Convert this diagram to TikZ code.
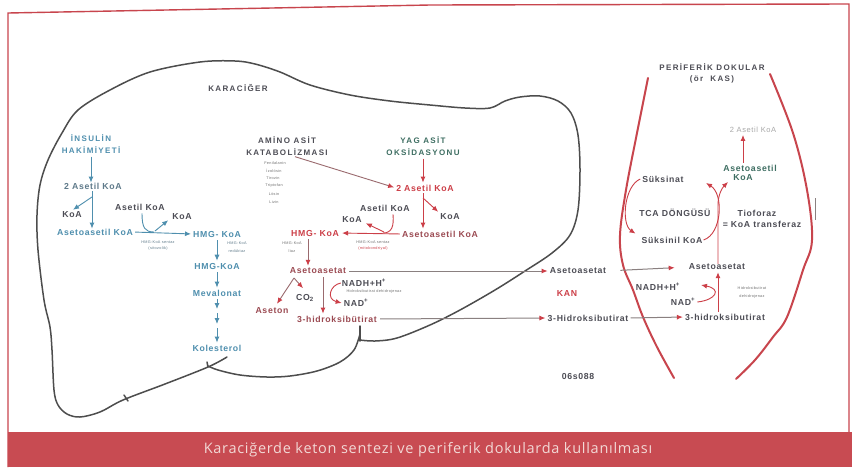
\documentclass[tikz,border=0pt]{standalone}
\usepackage{fontspec}
\setmainfont{Liberation Sans}
\newfontfamily\lab[LetterSpace=8]{Liberation Sans}
\newfontfamily\capf[LetterSpace=17]{Liberation Sans}
\newfontfamily\captf[LetterSpace=5]{Open Sans}
\usetikzlibrary{arrows.meta}
\definecolor{dgray}{HTML}{4D4D55}
\definecolor{bgray}{HTML}{5F7A8A}
\definecolor{bluec}{HTML}{4F8FAE}
\definecolor{redc}{HTML}{CC3F48}
\definecolor{rbrown}{HTML}{9B4A52}
\definecolor{tealc}{HTML}{3E6E62}
\definecolor{liverc}{HTML}{4D4D4D}
\definecolor{bordc}{HTML}{C8454D}
\definecolor{bandc}{HTML}{C84B52}
\definecolor{captc}{HTML}{F2D9D6}
\definecolor{glc}{HTML}{8A8080}
\definecolor{rgl}{HTML}{9A6A6E}
\definecolor{lgray}{HTML}{A8A8A8}
\definecolor{tgray}{HTML}{707070}
\tikzset{
  txt/.style={font=\lab\bfseries\fontsize{8.7}{9.5}\selectfont, inner sep=0pt, text=dgray},
  capl/.style={font=\capf\bfseries\fontsize{8}{9}\selectfont, inner sep=0pt, text=dgray},
  tiny/.style={font=\lab\fontsize{3.8}{4.2}\selectfont, inner sep=0pt, text=tgray},
  ltxt/.style={font=\lab\fontsize{7.5}{8}\selectfont, inner sep=0pt, text=lgray},
  bl/.style={text=bluec}, rd/.style={text=redc}, rb/.style={text=rbrown}, tl/.style={text=tealc},
  tip/.style={-{Latex[length=6pt,width=5pt,color=#1]}},
  barrow/.style={draw=bluec, line width=0.9pt, tip=bluec},
  bline/.style={draw=bluec, line width=0.9pt},
  rarrow/.style={draw=redc, line width=0.9pt, tip=redc},
  rline/.style={draw=redc, line width=0.9pt},
  rgarrow/.style={draw=rgl, line width=0.9pt, tip=redc},
  glong/.style={draw=glc, line width=1pt, tip=redc, shorten <=3pt, shorten >=2pt},
  liver/.style={draw=liverc, line width=1.5pt, line join=round, line cap=round},
  muscle/.style={draw=bordc, line width=2pt, line cap=round},
}
\begin{document}
\begin{tikzpicture}[x=1pt,y=-1pt]
\useasboundingbox (0,0) rectangle (858,472);
\fill[white] (0,0) rectangle (858,472);
% frame and band
\draw[bordc, line width=1.4pt] (8,467) -- (8,13) -- (430,5) -- (849,4) -- (849,432);
\fill[bandc] (8,432) rectangle (852,467);
\node[font=\captf\fontsize{14.5}{15}\selectfont, text=captc, inner sep=0pt] (capt) at (428,450) {Karaciğerde keton sentezi ve periferik dokularda kullanılması};

% liver outline
\draw[liver] plot[smooth, tension=0.55] coordinates {
 (227,357) (208,367) (165,384) (123,400) (100,412) (80,417) (67,414) (58,405) (54,390) (52,350) (50,327)
 (44,300) (38,250) (37,215) (40,185) (48,160) (62,133) (78,110) (110,90) (150,72) (200,62) (235,61)
 (255,64) (280,72) (310,85) (350,95) (390,101) (430,105) (465,108) (490,108) (505,101) (520,97)
 (540,96) (558,101) (571,113) (578,135) (580,170) (578,210) (570,235) (552,253) (525,271) (495,290)
 (460,310) (430,325) (397,338) (375,341) (360,340)};
\draw[liver] (360,326) -- (360,341);
\draw[liver] plot[smooth, tension=0.55] coordinates {
 (360,334) (354,350) (340,362) (317,371) (290,376) (267,377) (240,375) (218,370) (208,366)};
\draw[liver] (124,395) -- (128,401);
\draw[liver] (207,362) -- (208,367);
\node[capl] (liv) at (238,88) {KARACİĞER};

% peripheral tissue outline
\draw[muscle] plot[smooth, tension=0.6] coordinates {
 (648,78) (637,133) (626,190) (620,235) (623,265) (633,290) (643,317) (657,347) (674,378)};
\draw[muscle] plot[smooth, tension=0.6] coordinates {
 (770,74) (793,133) (807,190) (812,240) (803,270) (787,317) (773,337) (755,360) (736,379)};
\draw[glc, line width=0.7pt] (815,198) -- (815,220);

% ---------- left column (insulin) ----------
\node[capl,bl] (ins1) at (91,138) {İNSULİN};
\node[capl,bl] (ins2) at (91,150) {HAKİMİYETİ};
\node[txt,text=bgray] (n2aL) at (93,186) {2 Asetil KoA};
\coordinate (brL) at (92,197);
\node[txt] (koaL) at (72,215) {KoA};
\node[txt,bl] (aaL) at (95,232) {Asetoasetil KoA};
\node[txt] (asL) at (140,207) {Asetil KoA};
\node[txt] (koaL2) at (182,217) {KoA};
\node[txt,bl] (hmgL) at (217,234) {HMG- KoA};
\node[tiny,text=bgray] (snL1) at (158,242) {HMG-KoA sentaz};
\node[tiny,text=bgray] (snL2) at (158,249) {(sitozolik)};
\node[tiny,text=bgray] (rdL1) at (237,243) {HMG-KoA};
\node[tiny,text=bgray] (rdL2) at (237,251) {redüktaz};
\node[txt,bl] (hmgL2) at (217,266) {HMG-KoA};
\node[txt,bl] (mev) at (217,293) {Mevalonat};
\node[txt,bl] (kol) at (217,348) {Kolesterol};
\coordinate (k1) at (217,313);
\coordinate (k2) at (217,324);
\coordinate (k3) at (217,328);

\draw[barrow, shorten <=3pt] (ins2.south) -- (n2aL.north -| ins2.south);
\draw[barrow, shorten <=2pt] (n2aL.south -| brL) -- (aaL.north -| brL);
\draw[barrow] (brL) -- ([xshift=1pt,yshift=2pt]koaL.north);
\draw[barrow, shorten <=2pt, shorten >=2pt] (aaL.east) -- (hmgL.west);
\draw[bline] ([xshift=2pt,yshift=-3pt]asL.south) .. controls (142,228) and (145,232) .. (154,232);
\draw[barrow] (155,231) -- ([xshift=-4pt]koaL2.south west);
\draw[barrow, shorten <=3pt, shorten >=2pt] (hmgL.south) -- (hmgL2.north);
\draw[barrow, shorten <=3pt, shorten >=2pt] (hmgL2.south) -- (mev.north);
\draw[barrow, shorten <=3pt] (mev.south) -- ([yshift=4pt]k1);
\draw[barrow] (k1) -- (k2);
\draw[barrow, shorten >=2pt] (k3) -- (kol.north);

% ---------- middle column ----------
\node[capl] (am1) at (287,140) {AMİNO ASİT};
\node[capl] (am2) at (287,152) {KATABOLİZMASI};
\node[tiny] (al1) at (275,163) {Fenilalanin};
\node[tiny] (al2) at (274,171) {İzolösin};
\node[tiny] (al3) at (273,178) {Tirozin};
\node[tiny] (al4) at (274,186) {Triptofan};
\node[tiny] (al5) at (274,194) {Lösin};
\node[tiny] (al6) at (274,202) {Lizin};
\node[capl,tl] (yg1) at (423,140) {YAG ASİT};
\node[capl,tl] (yg2) at (423,152) {OKSİDASYONU};
\node[txt,rd] (n2aM) at (425,188) {2 Asetil KoA};
\coordinate (brM) at (423,198);
\node[txt] (koaM1) at (450,217) {KoA};
\node[txt,rb] (aaM) at (440,234) {Asetoasetil KoA};
\node[txt] (asM) at (385,208) {Asetil KoA};
\node[txt] (koaM2) at (352,220) {KoA};
\node[txt,rd] (hmgM) at (315,233) {HMG- KoA};
\node[tiny] (snM1) at (373,242) {HMG-KoA sentaz};
\node[tiny,text=redc] (snM2) at (373,249) {(mitokondriyal)};
\node[tiny] (lyM1) at (292,243) {HMG-KoA};
\node[tiny] (lyM2) at (292,251) {liaz};
\node[txt,rb] (asetM) at (318,271) {Asetoasetat};
\node[txt,rb] (aseton) at (272,311) {Aseton};
\node[txt] (co2) at (305,298) {CO\textsubscript{2}};
\node[txt] (nadh) at (364,283) {NADH+H\textsuperscript{+}};
\node[tiny] (hbdM) at (374,292) {Hidroksibutirat dehidrojenaz};
\node[txt] (nadM) at (356,303) {NAD\textsuperscript{+}};
\node[txt,rb] (hbM) at (337,319) {3-hidroksibütirat};
\coordinate (bA) at (294,278);
\coordinate (x308) at (308,0);
\coordinate (x323) at (323,0);

\draw[rgarrow, shorten >=2pt] ([xshift=8pt,yshift=-1pt]am2.south) -- (n2aM.west);
\draw[rarrow, shorten <=3pt, shorten >=2pt] (yg2.south) -- (n2aM.north -| yg2.south);
\draw[rarrow, shorten <=2pt, shorten >=2pt] (n2aM.south -| brM) -- (aaM.north -| brM);
\draw[rarrow] (brM) -- ([xshift=-2pt,yshift=2pt]koaM1.north west);
\draw[rarrow, shorten <=2pt, shorten >=3pt] (aaM.west) -- (hmgM.east);
\draw[rline] ([xshift=8pt,yshift=-3pt]asM.south) .. controls (394,226) and (392,233) .. (383,233);
\draw[rarrow] (384,232) -- ([xshift=4pt]koaM2.south east);
\draw[rgarrow, shorten <=3pt, shorten >=2pt] (hmgM.south -| x308) -- (asetM.north -| x308);
\draw[rgarrow] (bA) -- ([xshift=5pt,yshift=4pt]aseton.north);
\draw[rgarrow] (bA) -- ([xshift=-2pt,yshift=6pt]co2.north);
\draw[rgarrow, shorten <=3pt, shorten >=2pt] (asetM.south -| x323) -- (hbM.north -| x323);
\draw[rarrow] ([xshift=-1pt]nadh.west) .. controls (330,285) and (326,299) .. ([xshift=-2pt]nadM.west);

% ---------- blood ----------
\node[txt] (asetK) at (578,271) {Asetoasetat};
\node[txt,rd] (kan) at (567,293) {KAN};
\node[txt] (hbK) at (588,318) {3-Hidroksibutirat};
\draw[glong] (asetM.east) -- (asetK.west);
\draw[glong] (hbM.east) -- (hbK.west);

% ---------- peripheral tissue ----------
\node[capl] (per1) at (712,67) {PERİFERİK DOKULAR};
\node[capl] (per2) at (712,79) {(ör\ \ KAS)};
\node[ltxt] (ac2P) at (753,130) {2 Asetil KoA};
\node[txt,tl] (aakP1) at (750,168) {Asetoasetil};
\node[txt,tl] (aakP2) at (743,178) {KoA};
\node[txt] (suk) at (663,179) {Süksinat};
\node[txt] (tca) at (675,213) {TCA DÖNGÜSÜ};
\node[txt] (sukk) at (672,240) {Süksinil KoA};
\node[txt] (tio1) at (757,213) {Tioforaz};
\node[txt] (tio2) at (762,224) {= KoA transferaz};
\node[txt] (asetP) at (717,267) {Asetoasetat};
\node[txt] (nadhP) at (658,287) {NADH+H\textsuperscript{+}};
\node[txt] (nadP) at (683,302) {NAD\textsuperscript{+}};
\node[tiny] (hbd1) at (752,288) {Hidroksibutirat};
\node[tiny] (hbd2) at (752,297) {dehidrojenaz};
\node[txt] (hbP) at (725,317) {3-hidroksibutirat};
\node[txt] (code) at (578,376) {06s088};
\coordinate (vP) at (718,205);
\coordinate (tipA) at (728,182);
\coordinate (tipS) at (706,183);
\coordinate (tipN) at (701,285);

\draw[glong, shorten <=14pt, shorten >=14pt] (asetK.east) -- (asetP.west);
\draw[glong, shorten <=2pt] (hbK.east) -- (hbP.west);
\draw[rarrow, shorten <=2pt, shorten >=2pt] (aakP1.north -| aakP2.north) -- (ac2P.south -| aakP2.north);
\draw[rarrow] ([xshift=-2pt]suk.west) .. controls (624,186) and (621,224) .. ([xshift=-6pt,yshift=3pt]sukk.north west);
\draw[rarrow] ([xshift=1pt]sukk.east) .. controls (722,234) and (724,194) .. (tipS);
\draw[rarrow] (asetP.north -| vP) -- (vP) .. controls (718,195) and (722,188) .. (tipA);
\draw[rarrow, shorten <=2pt, shorten >=2pt] (hbP.north -| vP) -- (asetP.south -| vP);
\draw[rarrow] ([xshift=2pt]nadP.east) .. controls (716,300) and (722,289) .. (tipN);
\end{tikzpicture}
\end{document}
